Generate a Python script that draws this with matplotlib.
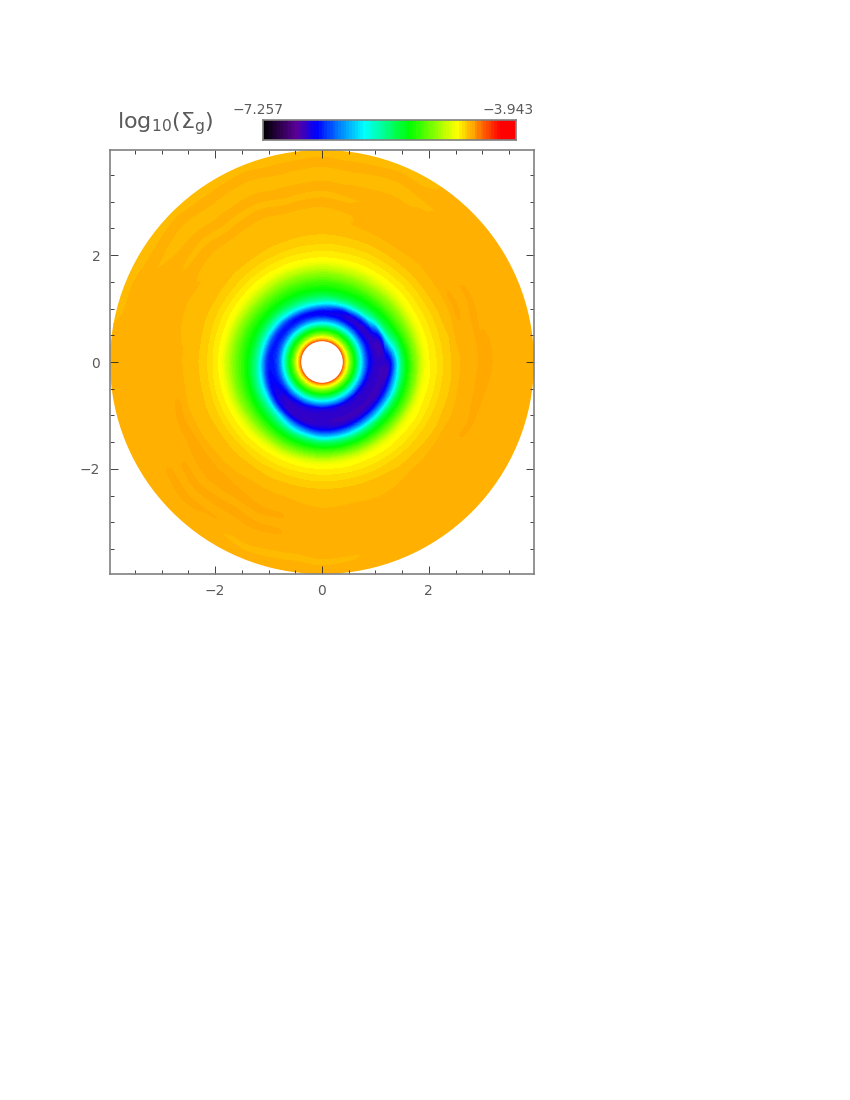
import numpy as np
import matplotlib
matplotlib.use("Agg")
import matplotlib.pyplot as plt
import matplotlib.tri as mtri
from matplotlib.colors import LinearSegmentedColormap, ListedColormap, BoundaryNorm
from matplotlib.patches import Circle
from matplotlib.ticker import FixedLocator

VMIN, VMAX = -7.257, -3.943
azimuth_deg = [0, 22.5, 45, 67.5, 90, 112.5, 135, 157.5, 180, 202.5, 225, 247.5, 270, 292.5, 315, 337.5]
radii = [0.36, 0.40, 0.43, 0.47, 0.52, 0.58, 0.65, 0.72, 0.80, 0.88, 0.96, 1.04, 1.12, 1.20, 1.28,
         1.36, 1.44, 1.52, 1.60, 1.70, 1.80, 1.90, 2.00, 2.10, 2.20, 2.30, 2.40, 2.55, 2.70, 2.85,
         3.00, 3.15, 3.30, 3.45, 3.60, 3.75, 3.90, 4.15]

r036 = [-4.25] * 16
r040 = [-4.42] * 16
r043 = [-4.60] * 16
r047 = [-4.78] * 16
r052 = [-5.05] * 16
r058 = [-5.28] * 16
r065 = [-5.58] * 16
r072 = [-5.93] * 16
r080 = [-6.30] * 16
r088 = [-6.55, -6.56, -6.60, -6.58, -6.55, -6.52, -6.50, -6.48, -6.48, -6.50, -6.58, -6.62, -6.64, -6.64, -6.64, -6.60]
r096 = [-6.66, -6.68, -6.68, -6.62, -6.56, -6.52, -6.50, -6.50, -6.50, -6.56, -6.68, -6.68, -6.68, -6.68, -6.68, -6.68]
r104 = [-6.70, -6.70, -6.62, -6.50, -6.25, -6.20, -6.30, -6.35, -6.45, -6.56, -6.66, -6.70, -6.70, -6.70, -6.70, -6.70]
r112 = [-6.70, -6.68, -6.30, -6.05, -5.88, -5.85, -5.93, -6.02, -6.15, -6.35, -6.60, -6.70, -6.70, -6.72, -6.72, -6.72]
r120 = [-6.68, -6.50, -5.85, -5.70, -5.65, -5.62, -5.68, -5.72, -5.80, -5.97, -6.30, -6.60, -6.66, -6.70, -6.70, -6.70]
r128 = [-6.60, -5.95, -5.62, -5.48, -5.47, -5.46, -5.48, -5.52, -5.58, -5.72, -5.88, -6.30, -6.55, -6.58, -6.56, -6.58]
r136 = [-6.25, -5.62, -5.42, -5.36, -5.35, -5.34, -5.35, -5.37, -5.42, -5.52, -5.62, -5.98, -6.25, -6.28, -6.25, -6.28]
r144 = [-5.85, -5.45, -5.31, -5.26, -5.26, -5.25, -5.25, -5.28, -5.30, -5.35, -5.45, -5.66, -5.90, -5.95, -5.92, -5.95]
r152 = [-5.52, -5.30, -5.20, -5.17, -5.17, -5.16, -5.15, -5.19, -5.20, -5.25, -5.32, -5.42, -5.55, -5.60, -5.55, -5.58]
r160 = [-5.33, -5.17, -5.08, -5.06, -5.07, -5.06, -5.05, -5.08, -5.10, -5.13, -5.18, -5.28, -5.36, -5.38, -5.36, -5.37]
r170 = [-5.12, -5.02, -4.96, -4.94, -4.95, -4.94, -4.92, -4.95, -4.97, -5.00, -5.02, -5.10, -5.14, -5.16, -5.16, -5.17]
r180 = [-4.95, -4.87, -4.83, -4.82, -4.83, -4.82, -4.80, -4.82, -4.84, -4.85, -4.86, -4.92, -4.94, -4.96, -4.97, -4.98]
r190 = [-4.78, -4.74, -4.73, -4.73, -4.73, -4.72, -4.71, -4.71, -4.72, -4.73, -4.74, -4.76, -4.77, -4.78, -4.79, -4.79]
r200 = [-4.695, -4.68, -4.675, -4.672, -4.67, -4.668, -4.665, -4.665, -4.665, -4.668, -4.672, -4.68, -4.69, -4.695, -4.70, -4.70]
r210 = [-4.665, -4.65, -4.645, -4.645, -4.645, -4.64, -4.635, -4.635, -4.635, -4.64, -4.645, -4.65, -4.655, -4.66, -4.665, -4.668]
r220 = [-4.635, -4.62, -4.615, -4.615, -4.615, -4.61, -4.605, -4.603, -4.60, -4.605, -4.61, -4.615, -4.62, -4.63, -4.635, -4.637]
r230 = [-4.605, -4.595, -4.59, -4.59, -4.595, -4.59, -4.585, -4.582, -4.58, -4.585, -4.59, -4.595, -4.598, -4.60, -4.605, -4.607]
r240 = [-4.58, -4.57, -4.565, -4.57, -4.575, -4.57, -4.565, -4.562, -4.56, -4.562, -4.565, -4.57, -4.572, -4.575, -4.58, -4.582]
r255 = [-4.555, -4.55, -4.55, -4.55, -4.56, -4.56, -4.555, -4.555, -4.555, -4.555, -4.555, -4.555, -4.555, -4.56, -4.56, -4.56]
r270 = [-4.528, -4.505, -4.528, -4.528, -4.56, -4.56, -4.555, -4.555, -4.535, -4.535, -4.532, -4.532, -4.55, -4.55, -4.535, -4.53]
r285 = [-4.528, -4.528, -4.528, -4.528, -4.56, -4.56, -4.555, -4.53, -4.528, -4.50, -4.50, -4.528, -4.528, -4.528, -4.528, -4.528]
r300 = [-4.50, -4.505, -4.528, -4.528, -4.528, -4.528, -4.528, -4.528, -4.528, -4.528, -4.50, -4.50, -4.528, -4.528, -4.528, -4.505]
r315 = [-4.505, -4.528, -4.528, -4.535, -4.56, -4.56, -4.56, -4.53, -4.528, -4.528, -4.528, -4.528, -4.528, -4.528, -4.528, -4.528]
r330 = [-4.528, -4.528, -4.528, -4.528, -4.528, -4.528, -4.53, -4.528, -4.528, -4.528, -4.50, -4.50, -4.528, -4.528, -4.528, -4.528]
r345 = [-4.528, -4.528, -4.528, -4.56, -4.56, -4.56, -4.56, -4.53, -4.528, -4.528, -4.528, -4.528, -4.528, -4.528, -4.528, -4.528]
r360 = [-4.528, -4.528, -4.535, -4.56, -4.56, -4.56, -4.56, -4.535, -4.528, -4.528, -4.50, -4.528, -4.528, -4.528, -4.528, -4.528]
r375 = [-4.528, -4.528, -4.528, -4.528, -4.528, -4.528, -4.528, -4.528, -4.528, -4.528, -4.528, -4.555, -4.555, -4.535, -4.528, -4.528]
r390 = [-4.528, -4.528, -4.532, -4.56, -4.56, -4.56, -4.56, -4.56, -4.532, -4.528, -4.528, -4.528, -4.528, -4.528, -4.528, -4.528]
r415 = [-4.528, -4.528, -4.532, -4.56, -4.56, -4.56, -4.56, -4.56, -4.532, -4.528, -4.528, -4.528, -4.528, -4.528, -4.528, -4.528]

rings = [r036, r040, r043, r047, r052, r058, r065, r072, r080, r088, r096, r104, r112, r120, r128,
         r136, r144, r152, r160, r170, r180, r190, r200, r210, r220, r230, r240, r255, r270, r285,
         r300, r315, r330, r345, r360, r375, r390, r415]
log_sigma = np.array(rings, dtype=float)

tick_major = [-2, 0, 2]
tick_minor = [-3.5, -3, -2.5, -1.5, -1, -0.5, 0.5, 1, 1.5, 2.5, 3, 3.5]

# colour table: smooth up to yellow, then the stepped orange bands
base = LinearSegmentedColormap.from_list("rainbow_idl", [
    (0.00, (0, 0, 0)), (0.13, (0.36, 0, 0.60)), (0.21, (0, 0, 1)), (0.30, (0, 0.5, 1)),
    (0.40, (0, 1, 1)), (0.58, (0, 1, 0)), (0.765, (1, 1, 0)), (0.94, (1, 0, 0)), (1.00, (1, 0, 0))])
low_levels = list(np.arange(VMIN, -4.72, 0.0364))
band_levels = [-4.72, -4.684, -4.647, -4.611, -4.575, -4.545, -4.51, -4.48]
high_levels = list(np.arange(-4.444, VMAX, 0.0364))
levels = np.array(low_levels + band_levels + high_levels + [VMAX])
mids = 0.5 * (levels[:-1] + levels[1:])
colors = [base((m - VMIN) / (VMAX - VMIN)) for m in mids]
n_low = len(low_levels)
band_colors = ["#FFFF00", "#FFEC00", "#FFDC00", "#FFCC00", "#FFBB00", "#FFB000", "#FFA900"]
for i, c in enumerate(band_colors):
    colors[n_low + i] = c
cmap = ListedColormap(colors)
norm = BoundaryNorm(levels, cmap.N)

INK = "#5a5a5a"
plt.rcParams["font.family"] = "DejaVu Sans"
plt.rcParams["mathtext.default"] = "regular"

W, H = 850, 1100
fig = plt.figure(figsize=(8.5, 11), dpi=100, facecolor="white")
ax = fig.add_axes([110 / W, (H - 574) / H, 424 / W, 424 / H])
ax.set_xlim(-3.97, 3.97)
ax.set_ylim(-3.97, 3.97)

R, T = np.meshgrid(radii, np.radians(azimuth_deg), indexing="ij")
x = (R * np.cos(T)).ravel()
y = (R * np.sin(T)).ravel()
nr, nt = R.shape
tris = []
for i in range(nr - 1):
    for j in range(nt):
        a = i * nt + j
        b = i * nt + (j + 1) % nt
        c = (i + 1) * nt + j
        d = (i + 1) * nt + (j + 1) % nt
        tris += [[a, b, d], [a, d, c]]
tri = mtri.Triangulation(x, y, np.array(tris))
interp = mtri.CubicTriInterpolator(tri, log_sigma.ravel(), kind="geom")
fine_tri, fine_z = mtri.UniformTriRefiner(tri).refine_field(log_sigma.ravel(), triinterpolator=interp, subdiv=3)
cs = ax.tricontourf(fine_tri, np.clip(fine_z, VMIN, VMAX - 1e-6), levels=levels, colors=colors)
disk = Circle((0, 0), 3.97, transform=ax.transData)
cs.set_clip_path(disk)
ax.add_patch(Circle((0, 0), 0.39, facecolor="white", edgecolor="none", zorder=3))

ax.xaxis.set_major_locator(FixedLocator(tick_major))
ax.yaxis.set_major_locator(FixedLocator(tick_major))
ax.xaxis.set_minor_locator(FixedLocator(tick_minor))
ax.yaxis.set_minor_locator(FixedLocator(tick_minor))
ax.tick_params(which="major", direction="in", length=6, width=0.6, color="#222222",
               top=True, right=True, labelsize=10, labelcolor=INK, pad=7)
ax.tick_params(which="minor", direction="in", length=3.2, width=0.6, color="#222222",
               top=True, right=True)
for s in ax.spines.values():
    s.set_edgecolor("#808080")
    s.set_linewidth(1.2)
    s.set_zorder(5)

cax = fig.add_axes([263 / W, (H - 140) / H, 253 / W, 20 / H])
grad = np.linspace(VMIN, VMAX - 1e-6, 400)[None, :]
cax.imshow(grad, aspect="auto", cmap=cmap, norm=norm, extent=[VMIN, VMAX, 0, 1], interpolation="nearest")
cax.set_xticks([])
cax.set_yticks([])
for s in cax.spines.values():
    s.set_edgecolor("#808080")
    s.set_linewidth(1.2)

fig.text(258.5 / W, (H - 110) / H, "\u22127.257", ha="center", va="center", fontsize=10, color=INK)
fig.text(534 / W, (H - 110) / H, "\u22123.943", ha="right", va="center", fontsize=10, color=INK)
fig.text(117 / W, (H - 124) / H, r"log$_{10}$($\Sigma_{g}$)", ha="left", va="center", fontsize=16, color=INK)

fig.savefig("out.png", dpi=100, facecolor="white")
